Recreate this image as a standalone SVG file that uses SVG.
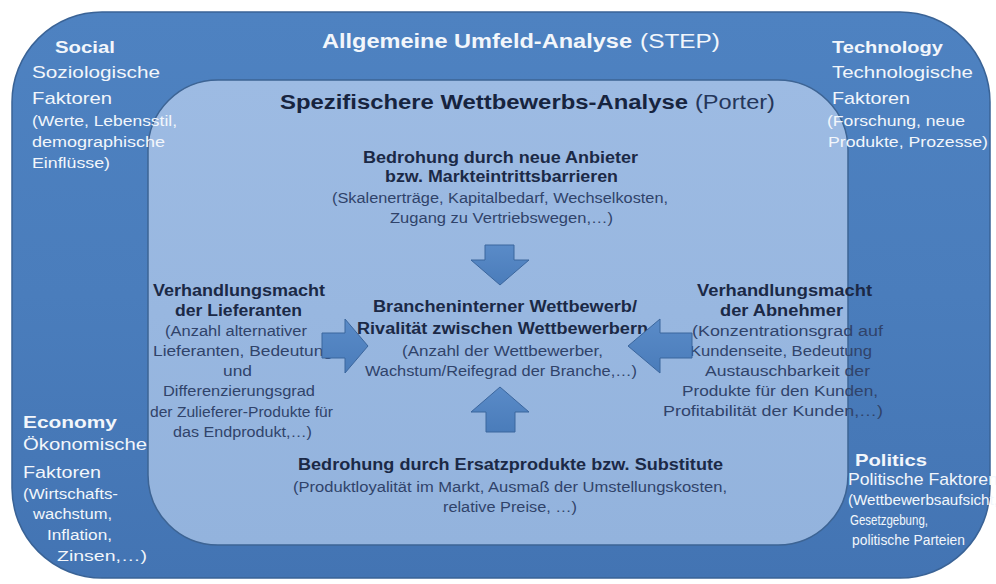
<svg xmlns="http://www.w3.org/2000/svg" width="996" height="584" viewBox="0 0 996 584">
<defs>
<linearGradient id="gOuter" x1="0" y1="0" x2="0" y2="1">
<stop offset="0" stop-color="#4e82c1"/>
<stop offset="0.5" stop-color="#4a7dbc"/>
<stop offset="1" stop-color="#4374b3"/>
</linearGradient>
<linearGradient id="gInner" x1="0" y1="0" x2="0" y2="1">
<stop offset="0" stop-color="#9dbbe3"/>
<stop offset="1" stop-color="#93b3dd"/>
</linearGradient>
<linearGradient id="gArrow" x1="0" y1="0" x2="0" y2="1">
<stop offset="0" stop-color="#5a8bc8"/>
<stop offset="1" stop-color="#4a7cba"/>
</linearGradient>
<style>
text{font-family:"Liberation Sans",Arial,sans-serif}
.wb{fill:#f2f6fb;font-weight:bold;font-size:17px}
.w{fill:#f2f6fb;font-size:17px}
.ws{fill:#f2f6fb;font-size:14px}
.t{fill:#f2f6fb;font-size:20px}
.tb{fill:#f2f6fb;font-size:20px;font-weight:bold}
.h{fill:#17243f;font-size:20px;font-weight:bold}
.hr{fill:#24365a;font-size:20px}
.d{fill:#1b2946;font-size:16px;font-weight:bold}
.r{fill:#30436a;font-size:14px}
.arrow{fill:url(#gArrow);stroke:#3b669d;stroke-width:1}
</style>
</defs>
<rect width="996" height="584" fill="#ffffff"/>

<g id="step-box">
<rect x="12" y="12" width="978" height="566" rx="90" ry="90" fill="url(#gOuter)" stroke="#3a6396" stroke-width="1.5"/>
<text class="tb" x="322" y="48" textLength="310" lengthAdjust="spacingAndGlyphs">Allgemeine Umfeld-Analyse</text>
<text class="t" x="640" y="48" textLength="80" lengthAdjust="spacingAndGlyphs">(STEP)</text>
</g>

<g id="porter-box">
<rect x="148" y="80" width="700" height="465" rx="70" ry="70" fill="url(#gInner)" stroke="#3d6494" stroke-width="1.5"/>
<text class="h" x="280" y="109" textLength="408" lengthAdjust="spacingAndGlyphs">Spezifischere Wettbewerbs-Analyse</text>
<text class="hr" x="695" y="109" textLength="80" lengthAdjust="spacingAndGlyphs">(Porter)</text>
</g>

<g id="social">
<text class="wb" x="55" y="53" textLength="60" lengthAdjust="spacingAndGlyphs">Social</text>
<text class="w" x="32" y="78" textLength="128" lengthAdjust="spacingAndGlyphs">Soziologische</text>
<text class="w" x="32" y="104" textLength="80" lengthAdjust="spacingAndGlyphs">Faktoren</text>
<text class="ws" x="32" y="126" textLength="145" lengthAdjust="spacingAndGlyphs">(Werte, Lebensstil,</text>
<text class="ws" x="32" y="147" textLength="133" lengthAdjust="spacingAndGlyphs">demographische</text>
<text class="ws" x="32" y="168" textLength="78" lengthAdjust="spacingAndGlyphs">Einflüsse)</text>
</g>

<g id="technology">
<text class="wb" x="832" y="53" textLength="111" lengthAdjust="spacingAndGlyphs">Technology</text>
<text class="w" x="832" y="78" textLength="141" lengthAdjust="spacingAndGlyphs">Technologische</text>
<text class="w" x="832" y="104" textLength="78" lengthAdjust="spacingAndGlyphs">Faktoren</text>
<text class="ws" x="827" y="126" textLength="138" lengthAdjust="spacingAndGlyphs">(Forschung, neue</text>
<text class="ws" x="828" y="147" textLength="160" lengthAdjust="spacingAndGlyphs">Produkte, Prozesse)</text>
</g>

<g id="economy">
<text class="wb" x="23" y="428" textLength="94" lengthAdjust="spacingAndGlyphs">Economy</text>
<text class="w" x="23" y="450" textLength="124" lengthAdjust="spacingAndGlyphs">Ökonomische</text>
<text class="w" x="23" y="478" textLength="78" lengthAdjust="spacingAndGlyphs">Faktoren</text>
<text class="ws" x="23" y="499" textLength="95" lengthAdjust="spacingAndGlyphs">(Wirtschafts-</text>
<text class="ws" x="33" y="519" textLength="79" lengthAdjust="spacingAndGlyphs">wachstum,</text>
<text class="ws" x="47" y="540" textLength="65" lengthAdjust="spacingAndGlyphs">Inflation,</text>
<text class="ws" x="57" y="561" textLength="90" lengthAdjust="spacingAndGlyphs">Zinsen,…)</text>
</g>

<g id="politics">
<text class="wb" x="855" y="466" textLength="72" lengthAdjust="spacingAndGlyphs">Politics</text>
<text class="w" x="848" y="485" textLength="150" lengthAdjust="spacingAndGlyphs">Politische Faktoren</text>
<text class="ws" x="848" y="505" textLength="150" lengthAdjust="spacingAndGlyphs">(Wettbewerbsaufsicht,</text>
<text class="ws" x="850" y="525" textLength="78" lengthAdjust="spacingAndGlyphs">Gesetzgebung,</text>
<text class="ws" x="852" y="545" textLength="113" lengthAdjust="spacingAndGlyphs">politische Parteien</text>
</g>

<g id="new-entrants">
<text class="d" x="363" y="163" textLength="275" lengthAdjust="spacingAndGlyphs">Bedrohung durch neue Anbieter</text>
<text class="d" x="385" y="182" textLength="233" lengthAdjust="spacingAndGlyphs">bzw. Markteintrittsbarrieren</text>
<text class="r" x="332" y="203" textLength="336" lengthAdjust="spacingAndGlyphs">(Skalenerträge, Kapitalbedarf, Wechselkosten,</text>
<text class="r" x="390" y="223" textLength="223" lengthAdjust="spacingAndGlyphs">Zugang zu Vertriebswegen,…)</text>
</g>

<g id="rivalry">
<text class="d" x="373" y="312" textLength="264" lengthAdjust="spacingAndGlyphs">Brancheninterner Wettbewerb/</text>
<text class="d" x="357" y="334" textLength="291" lengthAdjust="spacingAndGlyphs">Rivalität zwischen Wettbewerbern</text>
<text class="r" x="402" y="356" textLength="201" lengthAdjust="spacingAndGlyphs">(Anzahl der Wettbewerber,</text>
<text class="r" x="365" y="376" textLength="272" lengthAdjust="spacingAndGlyphs">Wachstum/Reifegrad der Branche,…)</text>
</g>

<g id="suppliers">
<text class="d" x="153" y="296" textLength="172" lengthAdjust="spacingAndGlyphs">Verhandlungsmacht</text>
<text class="d" x="175" y="316" textLength="127" lengthAdjust="spacingAndGlyphs">der Lieferanten</text>
<text class="r" x="165" y="336" textLength="142" lengthAdjust="spacingAndGlyphs">(Anzahl alternativer</text>
<text class="r" x="153" y="356" textLength="180" lengthAdjust="spacingAndGlyphs">Lieferanten, Bedeutung</text>
<text class="r" x="223" y="376" textLength="29" lengthAdjust="spacingAndGlyphs">und</text>
<text class="r" x="163" y="396" textLength="152" lengthAdjust="spacingAndGlyphs">Differenzierungsgrad</text>
<text class="r" x="150" y="417" textLength="183" lengthAdjust="spacingAndGlyphs">der Zulieferer-Produkte für</text>
<text class="r" x="173" y="437" textLength="139" lengthAdjust="spacingAndGlyphs">das Endprodukt,…)</text>
</g>

<g id="buyers">
<text class="d" x="697" y="296" textLength="175" lengthAdjust="spacingAndGlyphs">Verhandlungsmacht</text>
<text class="d" x="720" y="316" textLength="123" lengthAdjust="spacingAndGlyphs">der Abnehmer</text>
<text class="r" x="692" y="336" textLength="191" lengthAdjust="spacingAndGlyphs">(Konzentrationsgrad auf</text>
<text class="r" x="690" y="356" textLength="182" lengthAdjust="spacingAndGlyphs">Kundenseite, Bedeutung</text>
<text class="r" x="705" y="376" textLength="165" lengthAdjust="spacingAndGlyphs">Austauschbarkeit der</text>
<text class="r" x="682" y="396" textLength="196" lengthAdjust="spacingAndGlyphs">Produkte für den Kunden,</text>
<text class="r" x="663" y="416" textLength="220" lengthAdjust="spacingAndGlyphs">Profitabilität der Kunden,…)</text>
</g>

<g id="substitutes">
<text class="d" x="298" y="470" textLength="425" lengthAdjust="spacingAndGlyphs">Bedrohung durch Ersatzprodukte bzw. Substitute</text>
<text class="r" x="293" y="492" textLength="434" lengthAdjust="spacingAndGlyphs">(Produktloyalität im Markt, Ausmaß der Umstellungskosten,</text>
<text class="r" x="443" y="512" textLength="134" lengthAdjust="spacingAndGlyphs">relative Preise, …)</text>
</g>

<g id="connectors">
<polygon class="arrow" points="485,245 514,245 514,260 529,260 500,285 471,260 485,260"/>
<polygon class="arrow" points="500,387 529,412 515,412 515,432 486,432 486,412 471,412"/>
<polygon class="arrow" points="322,333 345,333 345,319 368,346 345,373 345,358 322,358"/>
<polygon class="arrow" points="692,333 660,333 660,319 628,346 660,373 660,358 692,358"/>
</g>
</svg>
